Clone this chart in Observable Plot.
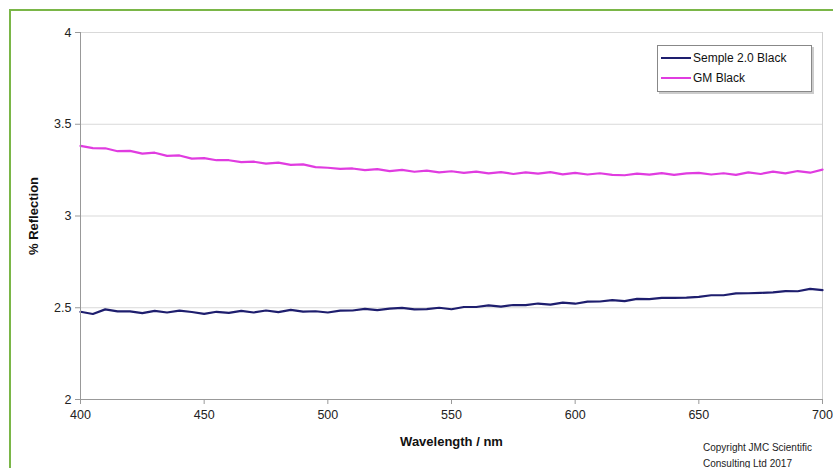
<!DOCTYPE html>
<html>
<head>
<meta charset="utf-8">
<script src="https://cdn.jsdelivr.net/npm/d3@7"></script>
<script src="https://cdn.jsdelivr.net/npm/@observablehq/plot@0.6"></script>
<style>
  html, body { margin: 0; padding: 0; background: #fff; }
  #wrap { position: relative; width: 833px; height: 468px; overflow: hidden; font-family: "Liberation Sans", Arial, sans-serif; }
  #border { position: absolute; left: 9px; top: 9px; width: 840px; height: 500px; border: 2px solid #7ab648; box-sizing: border-box; }
  #chart { position: absolute; left: 0; top: 0; }
  #legend { position: absolute; left: 657px; top: 45px; width: 155px; height: 47px; border: 1px solid #888; background: #fff; box-sizing: border-box; box-shadow: 2px 2px 0 #ccc; font-size: 12px; color: #111; }
  .item { position: absolute; left: 3px; height: 16px; display: flex; align-items: center; }
  .swatch { width: 30px; height: 2px; margin-right: 2px; }
  #copy { position: absolute; left: 703px; top: 440px; font-size: 10px; line-height: 16px; color: #222; }
</style>
</head>
<body>
<div id="wrap">
  <div id="chart"></div>
  <div id="border"></div>
  <div id="legend"></div>
  <div id="copy">Copyright JMC Scientific<br>Consulting Ltd 2017</div>
</div>
<script>
const wavelengths = [400,405,410,415,420,425,430,435,440,445,450,455,460,465,470,475,480,485,490,495,500,505,510,515,520,525,530,535,540,545,550,555,560,565,570,575,580,585,590,595,600,605,610,615,620,625,630,635,640,645,650,655,660,665,670,675,680,685,690,695,700];
const gmBlack = [3.382,3.370,3.369,3.353,3.355,3.340,3.345,3.328,3.330,3.313,3.315,3.304,3.304,3.294,3.296,3.285,3.291,3.279,3.281,3.266,3.263,3.257,3.259,3.250,3.255,3.245,3.251,3.241,3.247,3.238,3.244,3.235,3.242,3.232,3.239,3.229,3.238,3.231,3.239,3.227,3.235,3.226,3.233,3.224,3.222,3.231,3.225,3.234,3.224,3.232,3.235,3.226,3.233,3.224,3.238,3.229,3.242,3.232,3.245,3.236,3.253];
const sempleBlack = [2.478,2.466,2.491,2.480,2.480,2.471,2.483,2.474,2.484,2.477,2.467,2.478,2.472,2.483,2.474,2.485,2.476,2.488,2.479,2.481,2.474,2.484,2.485,2.494,2.487,2.495,2.499,2.491,2.493,2.500,2.492,2.504,2.504,2.513,2.506,2.515,2.514,2.523,2.517,2.528,2.522,2.533,2.534,2.542,2.536,2.548,2.547,2.554,2.554,2.555,2.559,2.568,2.568,2.578,2.579,2.581,2.584,2.591,2.590,2.603,2.596];
const seriesNames = ["Semple 2.0 Black", "GM Black"];
const seriesColors = ["#1e1e6e", "#e03ce0"];
const yTicks = [2, 2.5, 3, 3.5, 4];
const xTicks = [400, 450, 500, 550, 600, 650, 700];

const rows = [];
wavelengths.forEach((w, i) => {
  rows.push({wavelength: w, value: sempleBlack[i], series: seriesNames[0]});
  rows.push({wavelength: w, value: gmBlack[i], series: seriesNames[1]});
});

const plot = Plot.plot({
  width: 833,
  height: 468,
  marginLeft: 80,
  marginRight: 11,
  marginTop: 32,
  marginBottom: 69,
  style: {fontFamily: "Liberation Sans, Arial, sans-serif", fontSize: "12px", color: "#222", background: "transparent"},
  x: {domain: [400, 700]},
  y: {domain: [2, 4]},
  color: {domain: seriesNames, range: seriesColors},
  marks: [
    Plot.gridY(yTicks, {stroke: "#d9d9d9", strokeOpacity: 1}),
    Plot.ruleX([700], {stroke: "#cfcfcf"}),
    Plot.line(rows, {x: "wavelength", y: "value", z: "series", stroke: "series", strokeWidth: 2.2, curve: "linear"}),
    Plot.ruleX([400], {stroke: "#999"}),
    Plot.ruleY([2], {stroke: "#999"}),
    Plot.axisY({ticks: yTicks, tickSize: 5, tickPadding: 4, stroke: "#999", label: "% Reflection", labelAnchor: "center", labelOffset: 52, labelArrow: "none", tickFormat: d => String(d)}),
    Plot.axisX({ticks: xTicks, tickSize: 5, tickPadding: 6, stroke: "#999", label: "Wavelength / nm", labelAnchor: "center", labelOffset: 46, labelArrow: "none"})
  ]
});
document.getElementById("chart").appendChild(plot);

plot.querySelectorAll('[aria-label="y-axis label"], [aria-label="x-axis label"]').forEach(g => {
  g.setAttribute("font-weight", "bold");
  g.setAttribute("font-size", "13px");
  g.setAttribute("fill", "#111");
});
plot.querySelectorAll('[aria-label="y-axis tick label"], [aria-label="x-axis tick label"]').forEach(g => {
  g.setAttribute("fill", "#222");
  g.setAttribute("font-size", "12.5px");
});

const legend = document.getElementById("legend");
seriesNames.forEach((name, i) => {
  const item = document.createElement("div");
  item.className = "item";
  item.style.top = (4 + i * 20) + "px";
  const sw = document.createElement("div");
  sw.className = "swatch";
  sw.style.background = seriesColors[i];
  const t = document.createElement("span");
  t.textContent = name;
  item.appendChild(sw);
  item.appendChild(t);
  legend.appendChild(item);
});
</script>
</body>
</html>
